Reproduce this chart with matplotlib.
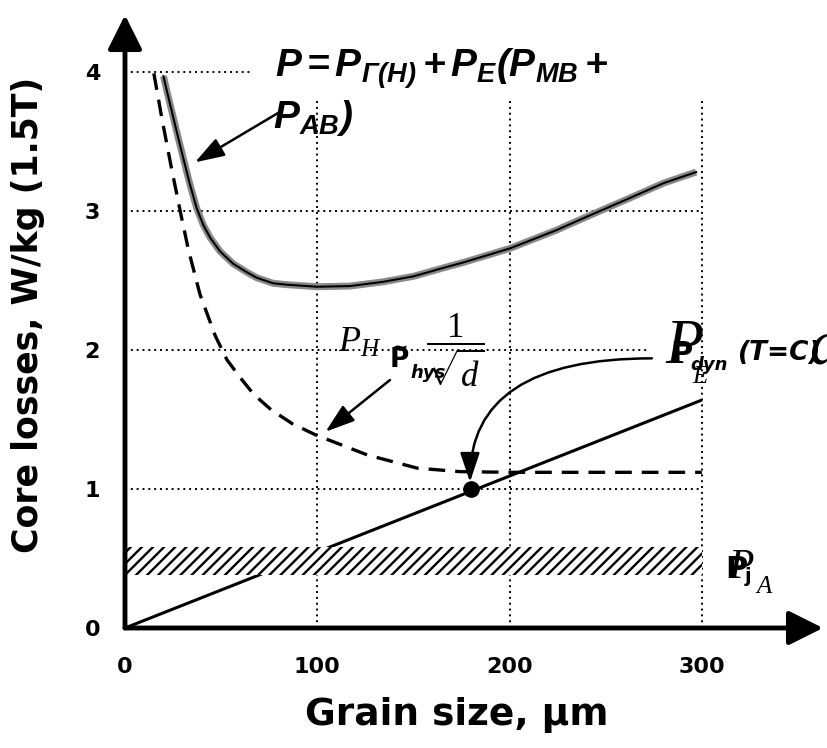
import matplotlib
matplotlib.use("Agg")
import matplotlib.pyplot as plt

plt.rcParams['mathtext.fontset'] = 'custom'
plt.rcParams['mathtext.rm'] = 'Liberation Serif'
plt.rcParams['mathtext.it'] = 'Liberation Serif:italic'
plt.rcParams['mathtext.bf'] = 'Liberation Serif:bold'
plt.rcParams['mathtext.sf'] = 'Liberation Sans:bold:italic'
plt.rcParams['hatch.linewidth'] = 1.7

# ---------------- data ----------------
total_x = [20, 22, 24.3, 26.9, 30.3, 33.8, 37.3, 40.7, 44.2, 49.4, 56.3, 63.3, 68.5,
           77, 84, 100, 117, 134, 150, 168, 176, 200, 224, 242, 262, 280, 297]
total_y = [3.97, 3.85, 3.72, 3.57, 3.38, 3.19, 3.02, 2.90, 2.81, 2.71, 2.62, 2.56, 2.52,
           2.48, 2.47, 2.455, 2.46, 2.49, 2.53, 2.60, 2.63, 2.73, 2.86, 2.97, 3.09, 3.20, 3.28]

hys_x = [15, 19, 24, 29, 33, 39, 47, 53, 60, 67, 76, 87, 99, 126, 152, 174, 200, 250, 300]
hys_y = [3.99, 3.68, 3.32, 2.98, 2.72, 2.40, 2.10, 1.93, 1.80, 1.68, 1.57, 1.47, 1.39,
         1.245, 1.15, 1.125, 1.12, 1.12, 1.12]

dyn_x = [0, 300]
dyn_y = [0.0, 1.64]

point_x = [180]
point_y = [1.0]

band_x = [0, 300]
band_low = [0.38, 0.38]
band_high = [0.583, 0.583]

grid_x = [100, 200, 300]
grid_x_top = [3.8, 3.8, 3.8]
grid_y = [1, 2, 3, 4]
grid_y_right = [300, 273, 300, 66]

x_ticks = [0, 100, 200, 300]
x_ticklabels = ['0', '100', '200', '300']
y_ticks = [0, 1, 2, 3, 4]
y_ticklabels = ['0', '1', '2', '3', '4']

xlabel = 'Grain size, µm'
ylabel = 'Core losses, W/kg (1.5T)'

W, H = 827, 748
fig = plt.figure(figsize=(W / 100, H / 100), dpi=100)
ax = fig.add_axes([125 / W, 1 - 628 / H, 698 / W, 613 / H])
ax.set_xlim(0, 363)
ax.set_ylim(0, 4.41)
for s in ax.spines.values():
    s.set_visible(False)
ax.patch.set_visible(False)

# grid (partial dotted lines)
dot = (0, (1, 2))
for gx, gt in zip(grid_x, grid_x_top):
    ax.plot([gx, gx], [0, gt], color='black', lw=1.4, ls=dot, zorder=1)
for gy, gr in zip(grid_y, grid_y_right):
    ax.plot([0, gr], [gy, gy], color='black', lw=1.4, ls=dot, zorder=1)

# curves
ax.plot(dyn_x, dyn_y, color='black', lw=2.2, zorder=2, solid_capstyle='butt')
ax.fill_between(band_x, band_low, band_high, facecolor='white', edgecolor='black',
                hatch='///', linewidth=0, zorder=3)
ax.plot(hys_x, hys_y, color='black', lw=2.4, ls=(0, (5, 3)), zorder=4)
ax.plot(total_x, total_y, color='#8a8a8a', lw=5, zorder=4, solid_capstyle='butt',
        solid_joinstyle='round')
ax.plot(total_x, total_y, color='black', lw=1.5, zorder=5, solid_joinstyle='round')
ax.plot(point_x, point_y, 'o', color='black', ms=11, zorder=6)

# axes with arrows
for end in [(0, 1), (1, 0)]:
    ax.annotate('', xy=end, xytext=(0, 0), xycoords='axes fraction',
                arrowprops=dict(arrowstyle='-|>,head_length=0.6,head_width=0.3',
                                lw=3.5, color='black', shrinkA=0, shrinkB=0,
                                mutation_scale=35), zorder=7)

# ticks
ax.set_xticks(x_ticks)
ax.set_xticklabels(x_ticklabels)
ax.set_yticks(y_ticks)
ax.set_yticklabels(y_ticklabels)
for lab in ax.get_xticklabels() + ax.get_yticklabels():
    lab.set_fontfamily('DejaVu Sans')
    lab.set_fontweight('bold')
    lab.set_fontsize(16)
ax.tick_params(axis='x', length=0, pad=21)
ax.tick_params(axis='y', length=0, pad=18)

fig.text(28 / W, 1 - 315 / H, ylabel, rotation=90, ha='center', va='center',
         fontsize=25, fontweight='bold', family='DejaVu Sans')
fig.text(457 / W, 1 - 715 / H, xlabel, ha='center', va='center',
         fontsize=27, fontweight='bold', family='DejaVu Sans')

arrow_kw = dict(arrowstyle='-|>,head_length=0.9,head_width=0.3', lw=1.8,
                color='black', shrinkA=0, shrinkB=0, mutation_scale=20)

# ---------- annotations ----------
ax.text(78, 3.964, r'$\mathsf{P = P_{Γ(H)} + P_{E}(P_{MB} +}$', fontsize=28,
        ha='left', va='baseline', zorder=8)
ax.text(77, 3.597, r'$\mathsf{P_{AB})}$', fontsize=28, ha='left', va='baseline', zorder=8)
ax.annotate('', xy=(36.4, 3.35), xytext=(79.6, 3.705), arrowprops=arrow_kw, zorder=8)

# P_H ~ 1/sqrt(d), P_hys
ax.text(110.8, 1.986, r'$P_H$', fontsize=26, ha='left', va='baseline', zorder=8)
ax.text(171.6, 2.0, r'$\dfrac{1}{\sqrt{d}}$', fontsize=25, ha='center', va='center', zorder=8)
ax.text(137.8, 1.88, 'P', fontsize=19, fontweight='bold', family='DejaVu Sans',
        ha='left', va='baseline', zorder=9)
ax.text(148.2, 1.80, 'hys', fontsize=13, fontweight='bold', style='italic',
        family='DejaVu Sans', ha='left', va='baseline', zorder=9)
ax.text(143, 2.02, '~', fontsize=14, fontweight='bold', family='DejaVu Sans',
        ha='center', va='center', zorder=10)
ax.annotate('', xy=(104.3, 1.412), xytext=(137.8, 1.784), arrowprops=arrow_kw, zorder=8)

# P_E / P_dyn
ax.text(280.8, 1.906, r'$P$', fontsize=45, ha='left', va='baseline', zorder=8)
ax.text(294.8, 1.763, r'$E$', fontsize=18, ha='left', va='baseline', zorder=8)
ax.text(283.5, 1.906, 'P', fontsize=22, fontweight='bold', family='DejaVu Sans',
        ha='left', va='baseline', zorder=9)
ax.text(293.8, 1.856, 'dyn', fontsize=13, fontweight='bold', style='italic',
        family='DejaVu Sans', ha='left', va='baseline', zorder=9)
ax.text(318.8, 1.928, '(T=C)', fontsize=19, fontweight='bold', style='italic',
        family='DejaVu Sans', ha='left', va='baseline', zorder=9)
ax.text(355.5, 1.906, r'$d$', fontsize=45, ha='left', va='baseline', zorder=9, clip_on=False)
ax.annotate('', xy=(179.4, 1.05), xytext=(274, 1.94),
            arrowprops=dict(arrow_kw, connectionstyle='angle3,angleA=0,angleB=90'),
            zorder=8)

# P_A / P_j
ax.text(313.6, 0.36, r'$P$', fontsize=30, ha='left', va='baseline', zorder=8)
ax.text(327.6, 0.252, r'$A$', fontsize=18, ha='left', va='baseline', zorder=8)
ax.text(312.0, 0.36, 'P', fontsize=22, fontweight='bold', family='DejaVu Sans',
        ha='left', va='baseline', zorder=9)
ax.text(322.5, 0.33, 'j', fontsize=14, fontweight='bold', family='DejaVu Sans',
        ha='left', va='baseline', zorder=9)

fig.savefig('out.png', dpi=100)
